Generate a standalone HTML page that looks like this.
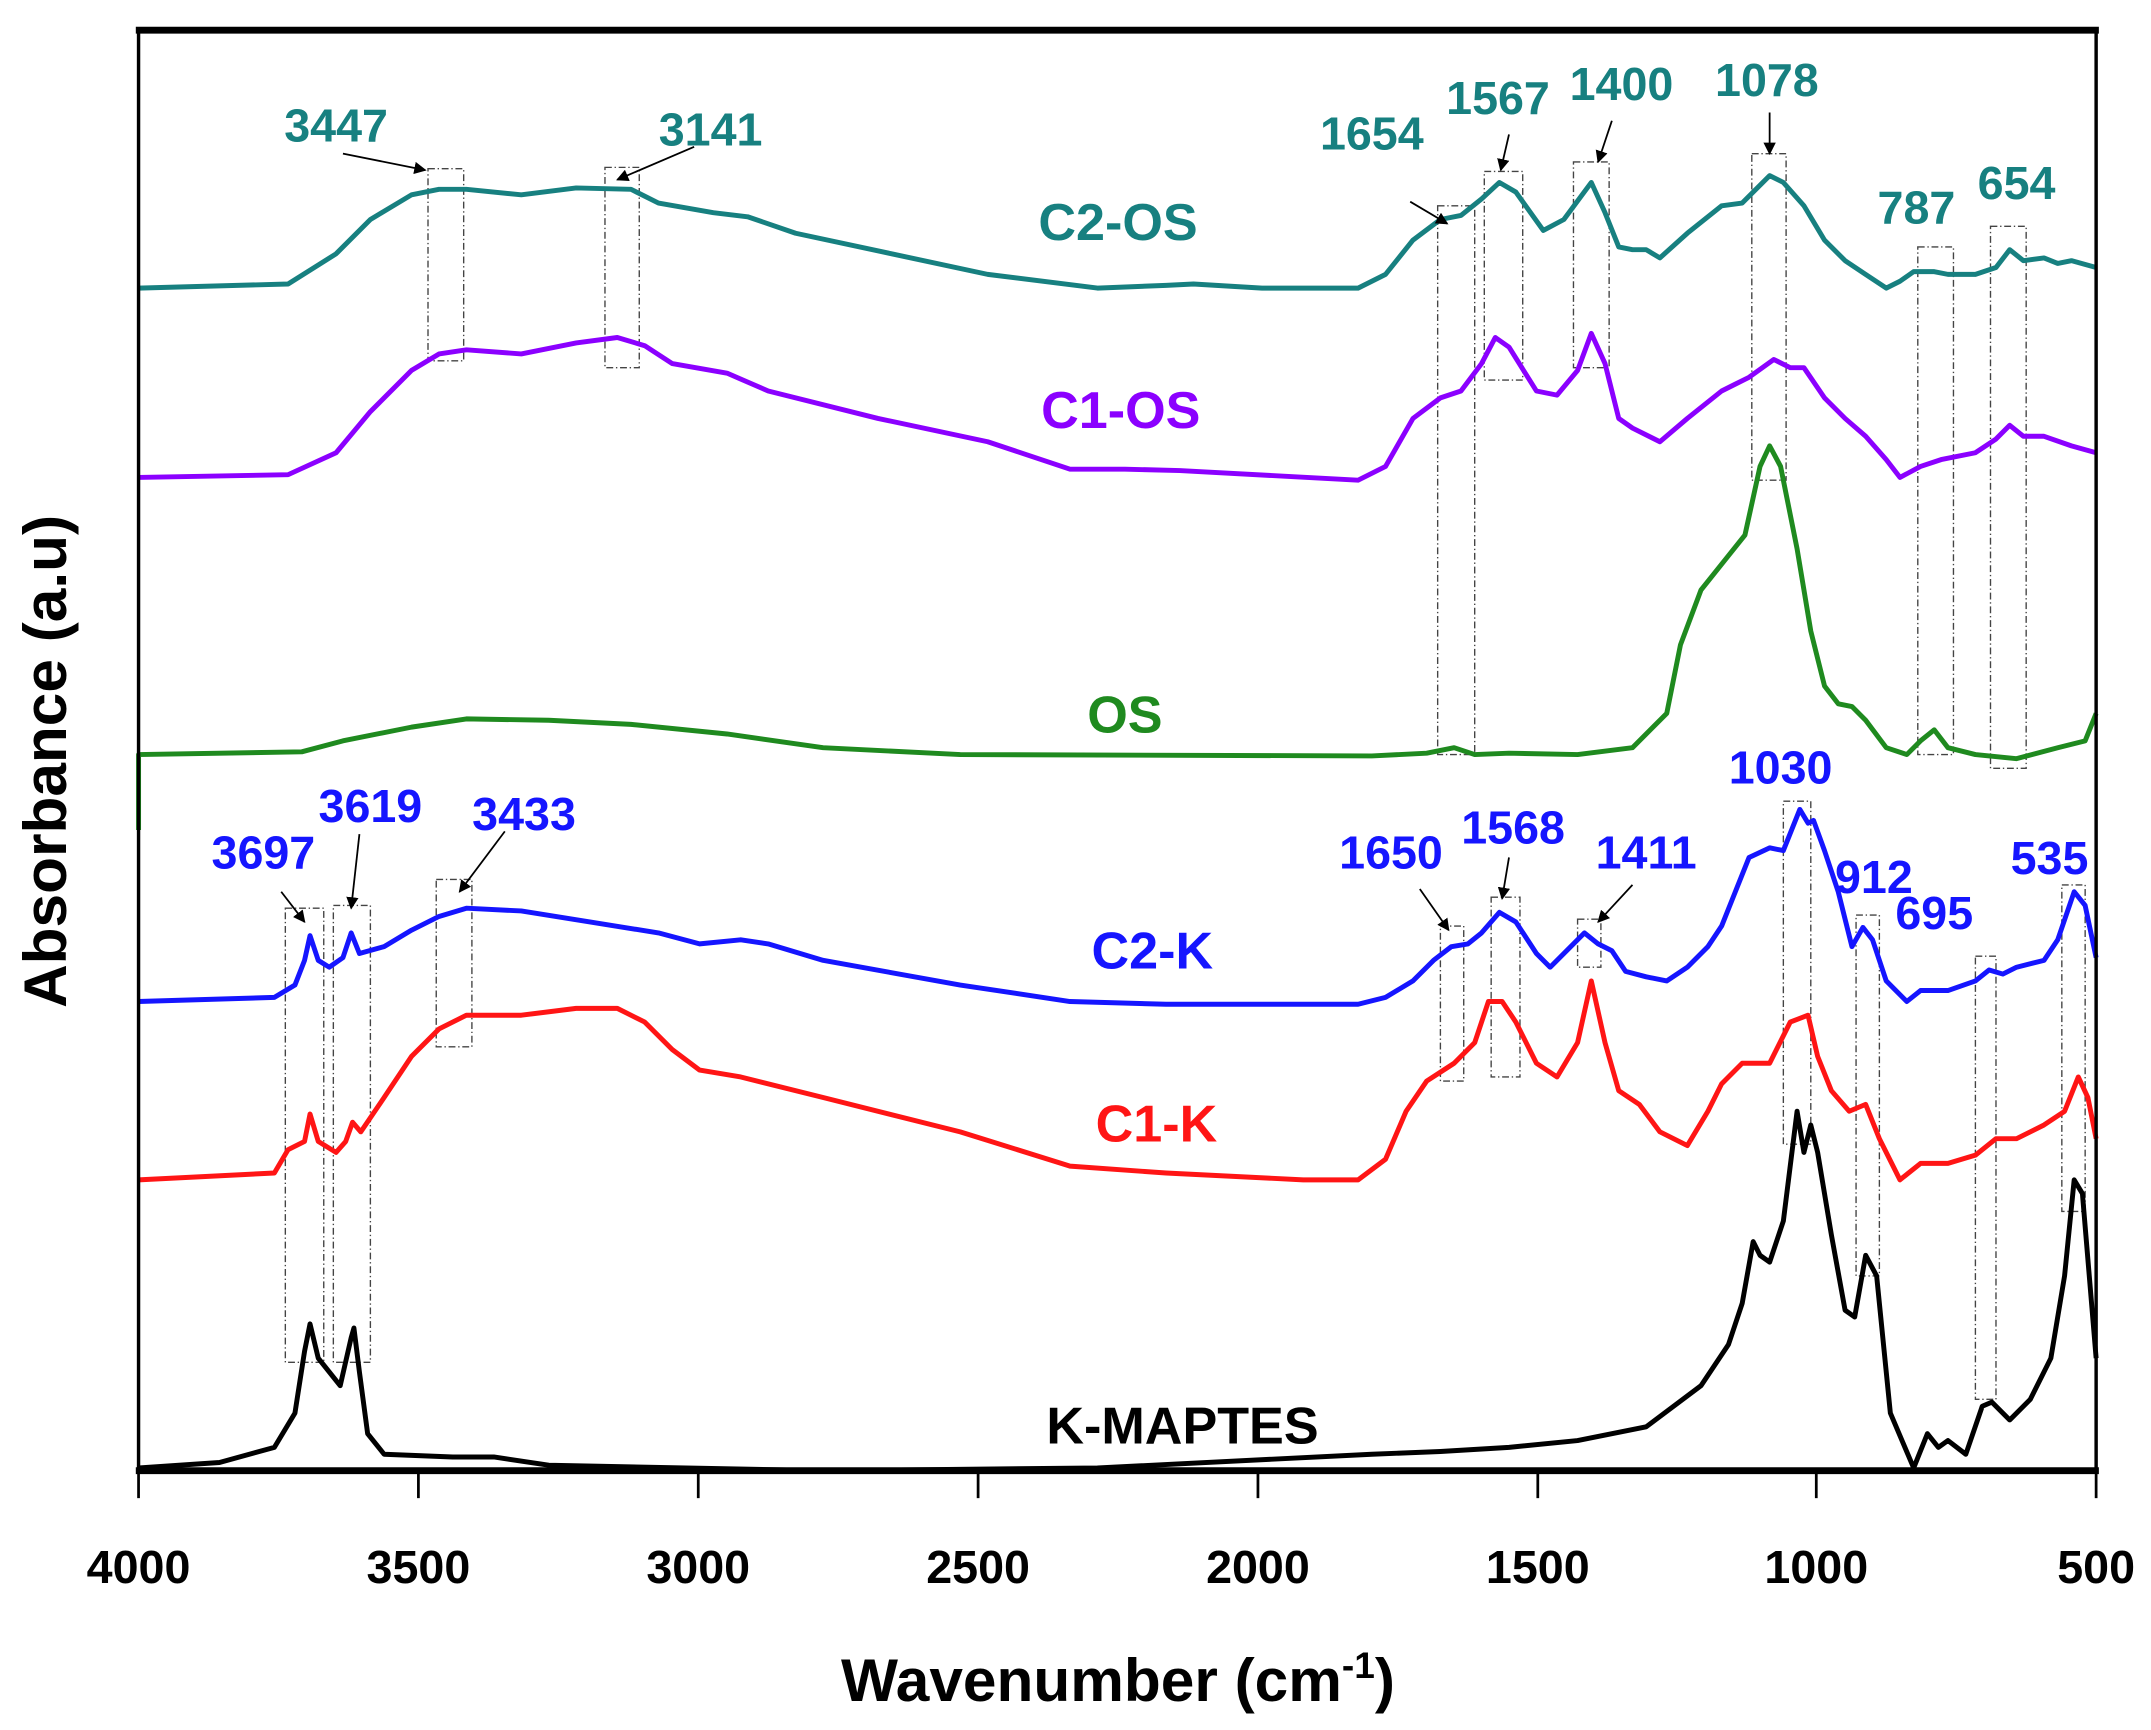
<!DOCTYPE html>
<html><head><meta charset="utf-8"><style>
html,body{margin:0;padding:0;background:#fff;}
svg{display:block;}
text{font-family:"Liberation Sans",Arial,sans-serif;font-weight:bold;}
</style></head><body>
<svg width="2151" height="1730" viewBox="0 0 1568 1261" preserveAspectRatio="none" xmlns="http://www.w3.org/2000/svg">
<rect width="1568" height="1261" fill="#fff"/>
<defs><marker id="ah" markerWidth="9" markerHeight="9" refX="8" refY="4.5" orient="auto" markerUnits="userSpaceOnUse" viewBox="0 0 9 9"><path d="M0,0 L9,4.5 L0,9z" fill="#000"/></marker></defs>
<g fill="none" stroke="#444" stroke-width="1" stroke-dasharray="5,2,1,2">
<rect x="312" y="123" width="26" height="140"/><rect x="441" y="122" width="25" height="146"/>
<rect x="1048" y="150" width="27" height="400"/><rect x="1082" y="125" width="28" height="152"/>
<rect x="1147" y="118" width="26" height="150"/><rect x="1277" y="112" width="25" height="238"/>
<rect x="1398" y="180" width="26" height="370"/><rect x="1451" y="165" width="26" height="395"/>
<rect x="208" y="662" width="28" height="331"/><rect x="243" y="660" width="27" height="333"/>
<rect x="318" y="641" width="26" height="122"/><rect x="1050" y="675" width="17" height="113"/>
<rect x="1087" y="654" width="21" height="131"/><rect x="1150" y="670" width="17" height="35"/>
<rect x="1300" y="584" width="20" height="250"/><rect x="1353" y="667" width="17" height="263"/>
<rect x="1440" y="697" width="15" height="323"/><rect x="1503" y="645" width="17" height="238"/>
</g>
<g fill="none" stroke-width="3.6" stroke-linejoin="round">
<polyline stroke="#178080" points="101,210 210,207 245,185 270,160 300,142 320,138 340,138 380,142 420,137 460,138 480,148 520,155 545,158 580,170 650,185 720,200 800,210 850,208 870,207 920,210 990,210 1010,200 1030,175 1050,160 1065,157 1080,145 1093,133 1105,140 1125,168 1140,160 1160,133 1170,155 1180,180 1190,182 1200,182 1210,188 1230,170 1255,150 1270,148 1290,128 1300,133 1315,150 1330,175 1345,190 1360,200 1375,210 1385,205 1395,198 1410,198 1420,200 1440,200 1455,195 1465,182 1475,190 1490,188 1500,192 1510,190 1528,195"/>
<polyline stroke="#8B00FF" points="101,348 210,346 245,330 270,300 300,270 320,258 340,255 380,258 420,250 450,246 470,252 490,265 530,272 560,285 640,305 720,322 780,342 820,342 860,343 990,350 1010,340 1030,305 1050,290 1065,285 1080,265 1090,246 1100,253 1120,285 1135,288 1150,270 1160,243 1170,265 1180,305 1190,312 1210,322 1230,305 1255,285 1265,280 1275,275 1293,262 1305,268 1315,268 1330,290 1345,305 1360,318 1375,335 1385,348 1400,340 1415,335 1440,330 1455,320 1465,310 1475,318 1490,318 1510,325 1528,330"/>
<polyline stroke="#1F8A1F" points="101,605 101,550 220,548 250,540 300,530 340,524 400,525 460,528 530,535 600,545 700,550 1000,551 1040,549 1060,545 1075,550 1100,549 1150,550 1190,545 1215,520 1225,470 1240,430 1260,405 1272,390 1283,340 1290,325 1298,340 1310,400 1320,460 1330,500 1340,513 1350,515 1360,525 1375,545 1390,550 1400,540 1410,532 1420,545 1440,550 1470,553 1500,545 1520,540 1528,520"/>
<polyline stroke="#1515FF" points="101,730 200,727 215,718 222,700 226,682 232,700 240,705 250,698 256,680 262,695 280,690 300,678 320,668 340,662 380,664 430,672 480,680 510,688 540,685 560,688 600,700 700,718 780,730 850,732 990,732 1010,727 1030,715 1045,700 1058,690 1070,688 1080,680 1093,665 1105,672 1120,695 1130,705 1140,695 1155,680 1165,688 1175,693 1185,708 1200,712 1215,715 1230,705 1245,690 1255,675 1265,650 1275,625 1290,618 1300,620 1312,590 1318,600 1322,598 1330,620 1340,650 1350,690 1358,676 1365,685 1375,715 1390,730 1400,722 1420,722 1440,715 1450,707 1460,710 1470,705 1490,700 1500,685 1512,650 1520,660 1528,698"/>
<polyline stroke="#FF1515" points="101,860 200,855 210,838 222,832 226,812 232,832 245,840 252,832 257,818 263,825 280,800 300,770 320,750 340,740 380,740 420,735 450,735 470,745 490,765 510,780 540,785 600,800 700,825 780,850 850,855 950,860 990,860 1010,845 1025,810 1040,788 1060,775 1075,760 1085,730 1095,730 1105,745 1120,775 1135,785 1150,760 1160,715 1170,760 1180,795 1195,805 1210,825 1230,835 1245,810 1255,790 1270,775 1290,775 1305,745 1318,740 1325,770 1335,795 1348,810 1360,805 1370,830 1385,860 1400,848 1420,848 1440,842 1455,830 1470,830 1490,820 1505,810 1515,785 1522,800 1528,830"/>
<polyline stroke="#000" points="101,1070 160,1066 200,1055 215,1030 222,985 226,965 232,990 240,1000 248,1010 256,975 258,968 262,1000 268,1045 280,1060 330,1062 360,1062 400,1068 500,1070 600,1072 800,1070 1000,1060 1050,1058 1100,1055 1150,1050 1200,1040 1240,1010 1260,980 1270,950 1278,905 1283,915 1290,920 1300,890 1310,810 1315,840 1320,820 1325,840 1335,900 1345,955 1352,960 1360,915 1368,930 1378,1030 1395,1070 1405,1045 1413,1055 1420,1050 1433,1060 1445,1025 1452,1022 1465,1035 1480,1020 1495,990 1505,930 1512,860 1518,870 1528,990"/>
</g>
<g stroke="#000" stroke-width="1.3" marker-end="url(#ah)">
<line x1="250" y1="112" x2="310" y2="124"/><line x1="506" y1="107" x2="450" y2="131"/>
<line x1="1028" y1="147" x2="1055" y2="163"/><line x1="1100" y1="98" x2="1094" y2="124"/>
<line x1="1175" y1="88" x2="1165" y2="118"/><line x1="1290" y1="82" x2="1290" y2="112"/>
<line x1="205" y1="650" x2="222" y2="672"/><line x1="262" y1="608" x2="256" y2="662"/>
<line x1="368" y1="606" x2="335" y2="650"/><line x1="1035" y1="648" x2="1056" y2="678"/>
<line x1="1100" y1="625" x2="1095" y2="655"/><line x1="1190" y1="645" x2="1165" y2="672"/>
</g>
<g fill="#178080" font-size="34" text-anchor="middle">
<text x="245" y="103">3447</text><text x="518" y="106">3141</text><text x="1000" y="109">1654</text>
<text x="1092" y="83">1567</text><text x="1182" y="73">1400</text><text x="1288" y="70">1078</text>
<text x="1397" y="163">787</text><text x="1470" y="145">654</text>
<text x="815" y="175" font-size="38">C2-OS</text>
</g>
<text x="817" y="312" fill="#8B00FF" font-size="38" text-anchor="middle">C1-OS</text>
<text x="820" y="534" fill="#1F8A1F" font-size="38" text-anchor="middle">OS</text>
<g fill="#1515FF" font-size="34" text-anchor="middle">
<text x="192" y="633">3697</text><text x="270" y="599">3619</text><text x="382" y="605">3433</text>
<text x="1014" y="633">1650</text><text x="1103" y="615">1568</text><text x="1200" y="633">1411</text>
<text x="1298" y="571">1030</text><text x="1366" y="651">912</text><text x="1410" y="677">695</text>
<text x="1494" y="637">535</text>
<text x="840" y="706" font-size="38">C2-K</text>
</g>
<text x="843" y="832" fill="#FF1515" font-size="38" text-anchor="middle">C1-K</text>
<text x="862" y="1052" fill="#000" font-size="38" text-anchor="middle">K-MAPTES</text>
<g stroke="#000" fill="none">
<line x1="99" y1="22" x2="1530" y2="22" stroke-width="5"/>
<line x1="99" y1="1072" x2="1530" y2="1072" stroke-width="5"/>
<line x1="101" y1="20" x2="101" y2="1074" stroke-width="2.5"/>
<line x1="1528" y1="20" x2="1528" y2="1074" stroke-width="2.5"/>
<g stroke-width="2"><line x1="101" y1="1072" x2="101" y2="1092"/><line x1="305" y1="1072" x2="305" y2="1092"/><line x1="509" y1="1072" x2="509" y2="1092"/><line x1="713" y1="1072" x2="713" y2="1092"/><line x1="917" y1="1072" x2="917" y2="1092"/><line x1="1121" y1="1072" x2="1121" y2="1092"/><line x1="1324" y1="1072" x2="1324" y2="1092"/><line x1="1528" y1="1072" x2="1528" y2="1092"/></g>
</g>
<g fill="#000" font-size="34" text-anchor="middle">
<text x="101" y="1154">4000</text><text x="305" y="1154">3500</text><text x="509" y="1154">3000</text><text x="713" y="1154">2500</text><text x="917" y="1154">2000</text><text x="1121" y="1154">1500</text><text x="1324" y="1154">1000</text><text x="1528" y="1154">500</text>
<text x="815" y="1240" font-size="44">Wavenumber (cm<tspan font-size="27" dy="-17">-1</tspan><tspan dy="17">)</tspan></text>
<text transform="translate(48,555) rotate(-90)" font-size="44">Absorbance (a.u)</text>
</g>
</svg>
</body></html>
